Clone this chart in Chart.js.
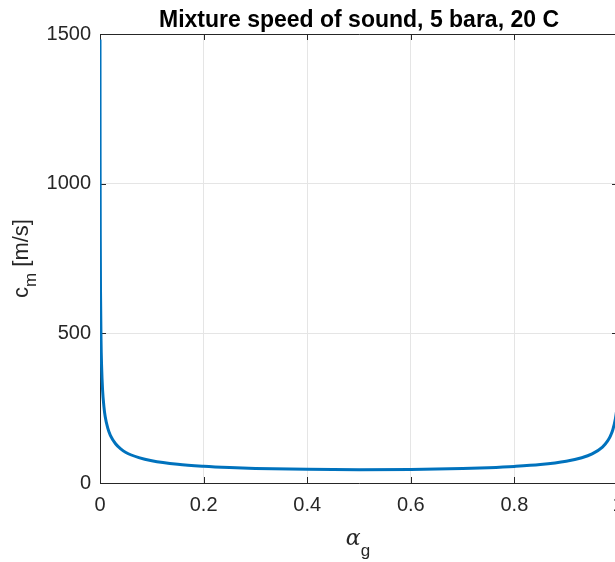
<!DOCTYPE html>
<html>
<head>
<meta charset="utf-8">
<script src="https://cdn.jsdelivr.net/npm/chart.js@4.4.1/dist/chart.umd.min.js"></script>
<style>
  html, body { margin: 0; padding: 0; background: #fff; overflow: hidden; }
  #wrap { width: 615px; height: 562px; overflow: hidden; }
</style>
</head>
<body>
<div id="wrap"><canvas id="soundChart" width="660" height="562"></canvas></div>
<script>
// gas volume fraction and mixture speed of sound
const alphaG = [0, 0.0001, 0.0002, 0.0005, 0.001, 0.002, 0.003, 0.005, 0.0075, 0.01,
    0.015, 0.02, 0.03, 0.04, 0.05, 0.075, 0.1, 0.15, 0.2, 0.25, 0.3, 0.4, 0.5,
    0.6, 0.7, 0.75, 0.8, 0.85, 0.9, 0.93, 0.95, 0.97, 0.98, 0.985, 0.99, 0.995,
    0.998, 0.999, 1];
const speedMix = [1482, 1236, 1082, 830, 639, 475, 395, 310, 256, 222,
    183, 159, 131, 114, 102, 85, 74.5, 62.6, 55.9, 51.6, 48.8, 45.6, 44.6,
    45.5, 48.5, 51.2, 55.3, 61.6, 72.7, 84.4, 97.3, 120, 141, 156, 178, 215,
    251, 268, 290];
const xTicks = [0, 0.2, 0.4, 0.6, 0.8, 1];
const yTicks = [0, 500, 1000, 1500];

const FONT = '"Liberation Sans", Arial, Helvetica, sans-serif';
const AXIS_COLOR = '#262626';

const points = alphaG.map((a, i) => ({ x: a, y: speedMix[i] }));

// MATLAB style box, inward ticks, title and axis labels
const matlabAxes = {
    id: 'matlabAxes',
    beforeDatasetsDraw(chart) {
        const ctx = chart.ctx;
        const area = chart.chartArea;
        const xs = chart.scales.x, ys = chart.scales.y;
        ctx.save();
        ctx.strokeStyle = AXIS_COLOR;
        ctx.lineWidth = 1;
        ctx.beginPath();
        ctx.rect(area.left + 0.5, area.top + 0.5, area.right - area.left, area.bottom - area.top);
        xTicks.forEach(v => {
            let px = Math.round(xs.getPixelForValue(v)) + 0.5;
            ctx.moveTo(px, area.bottom); ctx.lineTo(px, area.bottom - 6);
            ctx.moveTo(px, area.top); ctx.lineTo(px, area.top + 6);
        });
        yTicks.forEach(v => {
            let py = Math.round(ys.getPixelForValue(v)) + 0.5;
            ctx.moveTo(area.left, py); ctx.lineTo(area.left + 6, py);
            ctx.moveTo(area.right, py); ctx.lineTo(area.right - 6, py);
        });
        ctx.stroke();
        ctx.restore();
    },
    afterDraw(chart) {
        const ctx = chart.ctx;
        const area = chart.chartArea;
        const cx = (area.left + area.right) / 2;
        ctx.save();
        ctx.fillStyle = '#000';
        ctx.textBaseline = 'alphabetic';
        ctx.textAlign = 'center';
        ctx.font = 'bold 23px ' + FONT;
        ctx.fillText('Mixture speed of sound, 5 bara, 20 C', cx, 27);

        // x label: alpha with subscript g
        ctx.fillStyle = AXIS_COLOR;
        ctx.textAlign = 'left';
        let fa = 'italic 22px "DejaVu Serif", "Liberation Serif", serif';
        let fs = '17px ' + FONT;
        ctx.font = fa;
        let wa = ctx.measureText('\u03b1').width;
        ctx.font = fs;
        let wg = ctx.measureText('g').width;
        let x0 = cx - (wa + wg) / 2 - 1;
        ctx.font = fa;
        ctx.fillText('\u03b1', x0, 545);
        ctx.font = fs;
        ctx.fillText('g', x0 + wa, 556);

        // y label: c with subscript m
        let cy = (area.top + area.bottom) / 2;
        ctx.translate(28, cy);
        ctx.rotate(-Math.PI / 2);
        let fm = '22px ' + FONT;
        ctx.font = fm;
        let wc = ctx.measureText('c').width;
        let wu = ctx.measureText(' [m/s]').width;
        ctx.font = fs;
        let wm = ctx.measureText('m').width;
        let s = -(wc + wm + wu) / 2;
        ctx.font = fm;
        ctx.fillText('c', s, 0);
        ctx.font = fs;
        ctx.fillText('m', s + wc, 8);
        ctx.font = fm;
        ctx.fillText(' [m/s]', s + wc + wm, 0);
        ctx.restore();
    }
};

new Chart('soundChart', {
    type: 'line',
    data: {
        datasets: [{
            data: points,
            borderColor: '#0072BD',
            borderWidth: 3,
            pointRadius: 0,
            fill: false,
            cubicInterpolationMode: 'monotone'
        }]
    },
    options: {
        responsive: false,
        animation: false,
        layout: { padding: { top: 34, right: 42, left: 0, bottom: 0 } },
        plugins: {
            legend: { display: false },
            tooltip: { enabled: false },
            title: { display: false }
        },
        scales: {
            x: {
                type: 'linear',
                min: 0, max: 1,
                afterBuildTicks: s => { s.ticks = xTicks.map(v => ({ value: v })); },
                afterFit: s => { s.height = 79; },
                ticks: {
                    color: AXIS_COLOR,
                    font: { family: FONT, size: 20 },
                    padding: 10,
                    maxRotation: 0,
                    autoSkip: false,
                    callback: v => String(v)
                },
                grid: { color: '#e5e5e5', drawTicks: false },
                border: { display: false }
            },
            y: {
                min: 0, max: 1500,
                afterBuildTicks: s => { s.ticks = yTicks.map(v => ({ value: v })); },
                afterFit: s => { s.width = 100; },
                ticks: {
                    color: AXIS_COLOR,
                    font: { family: FONT, size: 20 },
                    padding: 9,
                    autoSkip: false,
                    callback: v => String(v)
                },
                grid: { color: '#e5e5e5', drawTicks: false },
                border: { display: false }
            }
        }
    },
    plugins: [matlabAxes]
});
</script>
</body>
</html>
